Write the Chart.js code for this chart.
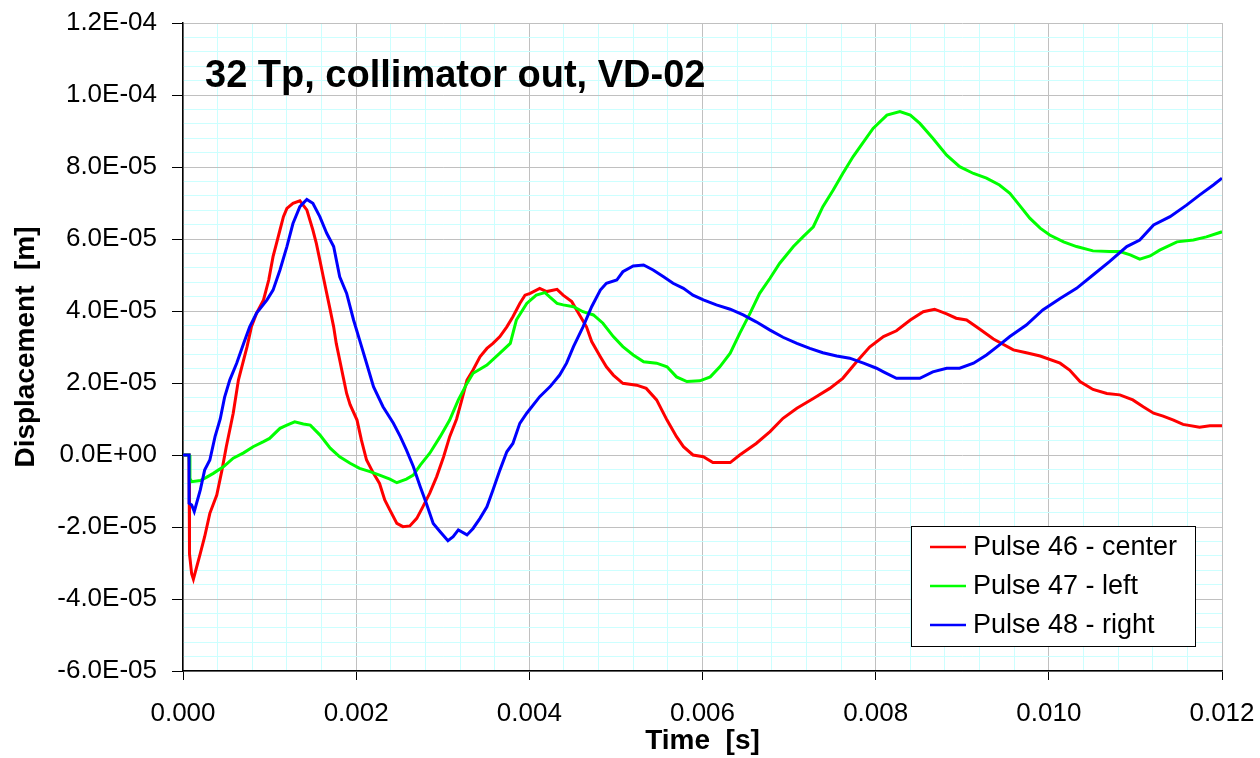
<!DOCTYPE html>
<html>
<head>
<meta charset="utf-8">
<script src="https://cdn.jsdelivr.net/npm/chart.js@4.4.1/dist/chart.umd.min.js"></script>
<style>
  html, body { margin: 0; padding: 0; background: #fff; }
  #wrap { width: 1260px; height: 758px; position: relative; }
</style>
</head>
<body>
<div id="wrap"><canvas id="chart"></canvas></div>
<script>
// Time [s] and displacement in units of 1E-05 m
const redT = [0, 0.00007, 0.00007, 0.00008, 0.0001, 0.00012, 0.0002, 0.00025, 0.00031, 0.00039, 0.00045, 0.0005, 0.00058, 0.00064, 0.00074, 0.00079, 0.00085, 0.00093, 0.00099, 0.00104, 0.00108, 0.00112, 0.00116, 0.0012, 0.00127, 0.00135, 0.00143, 0.0015, 0.00154, 0.00158, 0.00162, 0.00166, 0.0017, 0.00174, 0.00177, 0.00181, 0.00185, 0.00189, 0.00193, 0.00201, 0.00206, 0.00212, 0.0022, 0.00227, 0.00233, 0.00239, 0.00247, 0.00254, 0.00262, 0.0027, 0.00277, 0.00285, 0.00293, 0.00301, 0.00308, 0.00316, 0.00322, 0.00328, 0.00335, 0.00343, 0.00351, 0.00358, 0.00366, 0.00374, 0.00381, 0.00389, 0.00395, 0.00401, 0.00412, 0.0042, 0.00432, 0.00439, 0.00449, 0.00458, 0.00466, 0.00472, 0.00482, 0.00489, 0.00497, 0.00508, 0.00524, 0.00535, 0.00547, 0.00559, 0.0057, 0.00578, 0.00589, 0.00601, 0.00612, 0.00632, 0.00643, 0.00662, 0.00678, 0.00693, 0.00709, 0.00728, 0.00747, 0.00762, 0.00778, 0.00793, 0.00809, 0.00824, 0.0084, 0.00855, 0.00868, 0.00882, 0.00893, 0.00905, 0.0092, 0.00936, 0.00959, 0.00974, 0.0099, 0.01013, 0.01024, 0.01036, 0.01051, 0.01067, 0.01082, 0.01097, 0.01109, 0.01121, 0.01132, 0.01144, 0.01155, 0.01174, 0.01186, 0.012];
const redD = [0, 0, -1.33, -2.75, -3.3, -3.45, -2.73, -2.27, -1.62, -1.11, -0.42, 0.23, 1.16, 2.08, 3.01, 3.56, 3.94, 4.31, 4.86, 5.51, 5.88, 6.25, 6.62, 6.85, 6.99, 7.06, 6.81, 6.25, 5.88, 5.42, 4.95, 4.49, 4.03, 3.56, 3.1, 2.64, 2.17, 1.71, 1.4, 0.97, 0.42, -0.14, -0.51, -0.79, -1.25, -1.53, -1.9, -1.99, -1.97, -1.76, -1.44, -1.06, -0.6, -0.05, 0.51, 1.0, 1.53, 2.08, 2.36, 2.73, 2.96, 3.1, 3.29, 3.56, 3.84, 4.21, 4.44, 4.49, 4.63, 4.54, 4.6, 4.44, 4.26, 3.89, 3.56, 3.15, 2.73, 2.45, 2.22, 1.99, 1.94, 1.85, 1.53, 0.97, 0.51, 0.23, 0, -0.05, -0.21, -0.21, 0, 0.32, 0.65, 1.02, 1.3, 1.57, 1.85, 2.13, 2.59, 3.0, 3.29, 3.45, 3.75, 3.98, 4.05, 3.92, 3.8, 3.75, 3.5, 3.22, 2.92, 2.84, 2.75, 2.55, 2.36, 2.04, 1.82, 1.71, 1.67, 1.53, 1.34, 1.16, 1.08, 0.97, 0.85, 0.77, 0.81, 0.81];

const greenT = [0, 0.00007, 0.00008, 0.0001, 0.0002, 0.00027, 0.00035, 0.00047, 0.00058, 0.0007, 0.00081, 0.00093, 0.001, 0.00112, 0.0012, 0.00129, 0.00139, 0.00147, 0.00158, 0.0017, 0.00181, 0.00193, 0.00204, 0.00216, 0.00227, 0.00239, 0.00247, 0.00258, 0.00266, 0.00274, 0.00285, 0.00297, 0.00308, 0.00318, 0.00328, 0.00335, 0.00351, 0.00366, 0.00378, 0.00385, 0.00397, 0.00408, 0.00418, 0.00432, 0.00439, 0.00451, 0.00462, 0.00474, 0.00485, 0.00497, 0.00508, 0.0052, 0.00532, 0.00547, 0.00559, 0.0057, 0.00582, 0.00597, 0.00609, 0.0062, 0.00632, 0.00643, 0.00655, 0.00666, 0.00678, 0.00689, 0.00705, 0.00716, 0.00728, 0.00739, 0.00751, 0.00762, 0.00774, 0.00786, 0.00797, 0.00813, 0.00828, 0.0084, 0.00851, 0.00866, 0.00882, 0.00897, 0.00913, 0.00928, 0.00943, 0.00955, 0.00966, 0.00978, 0.0099, 0.01001, 0.01017, 0.01032, 0.01051, 0.0107, 0.01082, 0.01094, 0.01105, 0.01117, 0.01128, 0.01148, 0.01167, 0.01182, 0.012];
const greenD = [0, 0, -0.65, -0.74, -0.71, -0.62, -0.51, -0.32, -0.09, 0.06, 0.23, 0.37, 0.46, 0.74, 0.83, 0.92, 0.86, 0.83, 0.56, 0.19, -0.05, -0.23, -0.37, -0.46, -0.56, -0.67, -0.77, -0.67, -0.56, -0.28, 0.05, 0.51, 0.97, 1.53, 1.99, 2.27, 2.5, 2.83, 3.1, 3.75, 4.21, 4.44, 4.51, 4.21, 4.17, 4.12, 3.98, 3.89, 3.66, 3.29, 3.01, 2.78, 2.59, 2.55, 2.45, 2.17, 2.04, 2.06, 2.17, 2.45, 2.83, 3.38, 3.94, 4.49, 4.91, 5.32, 5.79, 6.06, 6.34, 6.9, 7.36, 7.82, 8.29, 8.7, 9.07, 9.44, 9.54, 9.44, 9.21, 8.8, 8.33, 8.01, 7.82, 7.69, 7.5, 7.27, 6.94, 6.58, 6.3, 6.11, 5.92, 5.79, 5.67, 5.65, 5.65, 5.56, 5.44, 5.53, 5.69, 5.92, 5.97, 6.06, 6.2];

const blueT = [0, 0.00007, 0.00007, 0.0001, 0.00013, 0.0002, 0.00025, 0.00031, 0.00037, 0.00043, 0.00048, 0.00054, 0.00062, 0.0007, 0.00077, 0.00085, 0.00097, 0.00104, 0.00112, 0.0012, 0.00127, 0.00135, 0.00143, 0.0015, 0.00158, 0.00166, 0.00174, 0.00181, 0.00189, 0.00197, 0.00204, 0.00212, 0.0022, 0.00231, 0.00243, 0.00251, 0.00258, 0.00266, 0.00274, 0.00281, 0.00289, 0.00297, 0.00306, 0.00312, 0.00318, 0.00328, 0.00335, 0.00343, 0.00351, 0.00358, 0.00366, 0.00374, 0.00381, 0.00389, 0.00397, 0.00412, 0.00424, 0.00435, 0.00443, 0.00451, 0.00462, 0.00472, 0.00482, 0.00489, 0.00501, 0.00508, 0.0052, 0.00532, 0.00543, 0.00555, 0.00566, 0.00578, 0.00589, 0.00601, 0.00616, 0.00632, 0.00647, 0.00662, 0.00678, 0.00693, 0.00709, 0.00724, 0.00739, 0.00755, 0.0077, 0.00786, 0.00801, 0.00809, 0.00824, 0.00851, 0.00866, 0.00882, 0.00897, 0.00913, 0.00928, 0.00943, 0.00955, 0.00974, 0.00993, 0.01013, 0.01032, 0.01051, 0.0107, 0.0109, 0.01105, 0.01121, 0.0114, 0.01159, 0.01174, 0.0119, 0.012];
const blueD = [0, 0, -1.34, -1.39, -1.57, -0.97, -0.42, -0.14, 0.51, 1.0, 1.6, 2.08, 2.55, 3.1, 3.56, 3.94, 4.31, 4.58, 5.14, 5.79, 6.43, 6.9, 7.1, 6.99, 6.62, 6.16, 5.79, 4.95, 4.49, 3.75, 3.19, 2.55, 1.9, 1.34, 0.88, 0.51, 0.14, -0.32, -0.88, -1.34, -1.9, -2.13, -2.38, -2.27, -2.08, -2.22, -2.04, -1.76, -1.44, -0.97, -0.42, 0.09, 0.32, 0.88, 1.16, 1.62, 1.9, 2.22, 2.55, 3.01, 3.56, 4.12, 4.58, 4.77, 4.86, 5.09, 5.25, 5.28, 5.14, 4.95, 4.77, 4.63, 4.44, 4.31, 4.17, 4.05, 3.89, 3.7, 3.47, 3.27, 3.1, 2.96, 2.84, 2.75, 2.69, 2.55, 2.41, 2.31, 2.13, 2.13, 2.31, 2.41, 2.41, 2.55, 2.78, 3.06, 3.29, 3.61, 4.03, 4.35, 4.63, 5.0, 5.37, 5.79, 5.97, 6.39, 6.62, 6.94, 7.22, 7.5, 7.69];

const seriesLabels = ['Pulse 46 - center', 'Pulse 47 - left', 'Pulse 48 - right'];
const seriesColors = ['#ff0000', '#00ff00', '#0000ff'];
const chartTitle = '32 Tp, collimator out, VD-02';

const pts = (t, d) => t.map((v, i) => ({x: v, y: d[i]}));

const FONT = 'Arial, "Liberation Sans", sans-serif';
const MAJOR = 'rgb(192,192,192)';
const MINOR = 'rgb(204,255,255)';

function yLabel(v) {
  v = Math.round(v * 10) / 10;
  if (v === 0) return '0.0E+00';
  if (Math.abs(v) >= 10) return (v / 10).toFixed(1) + 'E-04';
  return v.toFixed(1) + 'E-05';
}
const isMajX = v => Math.round(v / 0.0004) % 5 === 0;
const isMajY = v => Math.round(v / 0.4) % 5 === 0;

// scale paddings off, so the layout padding alone sets the plot box
const noPad = s => { s.paddingLeft = 0; s.paddingRight = 0; s.paddingTop = 0; s.paddingBottom = 0; };

const overlay = {
  id: 'overlay',
  beforeDatasetsDraw(chart) {
    const c = chart.ctx, a = chart.chartArea;
    c.save();
    c.font = 'bold 38px ' + FONT;
    c.fillStyle = '#000';
    c.textBaseline = 'alphabetic';
    c.fillText(chartTitle, a.left + 22, a.top + 64);
    c.restore();
  },
  afterDraw(chart) {
    const c = chart.ctx, a = chart.chartArea;
    const bx = a.right - 311, by = a.bottom - 145, bw = 284, bh = 120;
    c.save();
    c.fillStyle = '#fff';
    c.fillRect(bx, by, bw, bh);
    c.strokeStyle = '#000';
    c.lineWidth = 1;
    c.strokeRect(bx + 0.5, by + 0.5, bw, bh);
    c.font = '27px ' + FONT;
    c.textBaseline = 'middle';
    c.fillStyle = '#000';
    chart.data.datasets.forEach((ds, i) => {
      const yy = by + 21 + i * 39;
      c.strokeStyle = ds.borderColor;
      c.lineWidth = 2.5;
      c.beginPath();
      c.moveTo(bx + 19, yy);
      c.lineTo(bx + 55, yy);
      c.stroke();
      c.fillText(ds.label, bx + 62, yy + 1);
    });
    c.restore();
  }
};

new Chart(document.getElementById('chart'), {
  type: 'line',
  data: {
    datasets: [
      {label: seriesLabels[0], data: pts(redT, redD), borderColor: seriesColors[0], order: 3},
      {label: seriesLabels[1], data: pts(greenT, greenD), borderColor: seriesColors[1], order: 2},
      {label: seriesLabels[2], data: pts(blueT, blueD), borderColor: seriesColors[2], order: 1}
    ]
  },
  options: {
    responsive: true,
    maintainAspectRatio: false,
    animation: false,
    parsing: false,
    elements: {
      line: {borderWidth: 3, tension: 0, fill: false},
      point: {radius: 0}
    },
    layout: {padding: {left: 0, right: 38, top: 23, bottom: 0}},
    plugins: {legend: {display: false}, tooltip: {enabled: false}},
    scales: {
      x: {
        type: 'linear',
        min: 0, max: 0.012,
        afterFit: s => { s.height = 87; noPad(s); },
        border: {color: '#000', width: 1.5},
        grid: {
          color: ctx => isMajX(ctx.tick.value) ? MAJOR : MINOR,
          tickColor: ctx => isMajX(ctx.tick.value) ? '#000' : 'rgba(0,0,0,0)',
          tickLength: 9,
          lineWidth: 1
        },
        ticks: {
          stepSize: 0.0004,
          autoSkip: false,
          maxRotation: 0,
          padding: 18,
          color: '#000',
          font: {size: 26, family: FONT},
          callback: v => isMajX(v) ? v.toFixed(3) : ''
        },
        title: {
          display: true,
          text: 'Time  [s]',
          color: '#000',
          font: {size: 28, weight: 'bold', family: FONT},
          padding: {top: 0, bottom: 0}
        }
      },
      y: {
        type: 'linear',
        min: -6, max: 12,
        afterFit: s => { s.width = 183; noPad(s); },
        border: {color: '#000', width: 1.5},
        grid: {
          color: ctx => isMajY(ctx.tick.value) ? MAJOR : MINOR,
          tickColor: ctx => isMajY(ctx.tick.value) ? '#000' : 'rgba(0,0,0,0)',
          tickLength: 11,
          lineWidth: 1
        },
        ticks: {
          stepSize: 0.4,
          autoSkip: false,
          padding: 15,
          color: '#000',
          font: {size: 26, family: FONT},
          callback: v => isMajY(v) ? yLabel(v) : ''
        },
        title: {
          display: true,
          text: 'Displacement  [m]',
          color: '#000',
          font: {size: 28, weight: 'bold', family: FONT},
          padding: {top: 9, bottom: 0}
        }
      }
    }
  },
  plugins: [overlay]
});
</script>
</body>
</html>
